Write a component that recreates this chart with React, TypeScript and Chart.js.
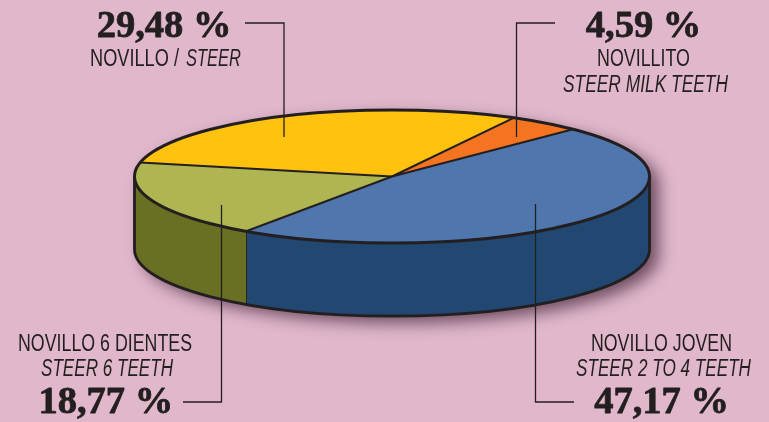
import React, { useEffect, useRef } from "react";
import { Chart, registerables } from "chart.js";

Chart.register(...registerables);

// Data, in drawing order (clockwise from the rotation start)
const categories = ["NOVILLITO", "NOVILLO JOVEN", "NOVILLO 6 DIENTES", "NOVILLO"];
const englishNames = ["STEER MILK TEETH", "STEER 2 TO 4 TEETH", "STEER 6 TEETH", "STEER"];
const shares = [4.59, 47.17, 18.77, 29.48];
const topColors = ["#F47421", "#4F77AE", "#AFB551", "#FFC20E"];
const wallColors = ["#B5500F", "#224872", "#697024", "#B88A00"];

const BG = "#E0B7CB";
const INK = "#231F20";
const FLATTEN = 66.5 / 257.5;
const DEPTH = 73;

type Seg = { text: string; italic?: boolean; x0: number; x1: number };
type Callout = {
  index: number;
  pct: { cx: number; y: number };
  lines: { y: number; segs: Seg[] }[];
  leader: number[][];
};

const callouts: Callout[] = [
  {
    index: 3,
    pct: { cx: 164, y: 37 },
    lines: [
      {
        y: 66,
        segs: [
          { text: categories[3] + " /", x0: 90, x1: 179 },
          { text: englishNames[3], italic: true, x0: 186, x1: 241 },
        ],
      },
    ],
    leader: [[245, 23], [284, 23], [284, 137]],
  },
  {
    index: 0,
    pct: { cx: 643.5, y: 37 },
    lines: [
      { y: 66, segs: [{ text: categories[0], x0: 597, x1: 690 }] },
      { y: 92, segs: [{ text: englishNames[0], italic: true, x0: 563, x1: 728 }] },
    ],
    leader: [[555, 23], [516.5, 23], [516.5, 137]],
  },
  {
    index: 2,
    pct: { cx: 105.8, y: 413 },
    lines: [
      { y: 351, segs: [{ text: categories[2], x0: 18, x1: 192 }] },
      { y: 376, segs: [{ text: englishNames[2], italic: true, x0: 41, x1: 173 }] },
    ],
    leader: [[183, 402], [221.5, 402], [221.5, 205]],
  },
  {
    index: 1,
    pct: { cx: 661.5, y: 413 },
    lines: [
      { y: 351, segs: [{ text: categories[1], x0: 591, x1: 732 }] },
      { y: 376, segs: [{ text: englishNames[1], italic: true, x0: 576, x1: 751 }] },
    ],
    leader: [[574, 402], [535.5, 402], [535.5, 204]],
  },
];

const formatShare = (v: number) => v.toFixed(2).replace(".", ",") + " %";

function fitted(ctx: CanvasRenderingContext2D, s: Seg, y: number) {
  ctx.save();
  ctx.font = `${s.italic ? "italic " : ""}23px "Liberation Sans Narrow", "Liberation Sans", sans-serif`;
  ctx.textAlign = "left";
  ctx.textBaseline = "alphabetic";
  const w = ctx.measureText(s.text).width;
  ctx.translate(s.x0, y);
  ctx.scale((s.x1 - s.x0) / w, 1);
  ctx.fillStyle = INK;
  ctx.fillText(s.text, 0, 0);
  ctx.restore();
}

const pie3d = {
  id: "pie3d",
  beforeDraw(chart: any) {
    const { ctx, width, height } = chart;
    ctx.save();
    ctx.fillStyle = BG;
    ctx.fillRect(0, 0, width, height);
    ctx.restore();
  },
  beforeDatasetsDraw(chart: any) {
    const { ctx } = chart;
    const arcs = chart.getDatasetMeta(0).data;
    const { x: cx, y: cy, outerRadius: rx } = arcs[0];
    const ry = rx * FLATTEN;

    // body with soft shadow
    ctx.save();
    ctx.shadowColor = "rgba(70,40,60,0.75)";
    ctx.shadowBlur = 16;
    ctx.shadowOffsetX = 9;
    ctx.shadowOffsetY = 7;
    ctx.fillStyle = wallColors[1];
    ctx.beginPath();
    ctx.ellipse(cx, cy + DEPTH, rx, ry, 0, 0, Math.PI);
    ctx.ellipse(cx, cy, rx, ry, 0, Math.PI, 0);
    ctx.closePath();
    ctx.fill();
    ctx.restore();

    // walls
    arcs.forEach((arc: any, i: number) => {
      const a0 = Math.max(arc.startAngle, 0);
      const a1 = Math.min(arc.endAngle, Math.PI);
      if (a1 <= a0) return;
      ctx.fillStyle = wallColors[i];
      ctx.beginPath();
      ctx.ellipse(cx, cy, rx, ry, 0, a0, a1);
      ctx.ellipse(cx, cy + DEPTH, rx, ry, 0, a1, a0, true);
      ctx.closePath();
      ctx.fill();
      if (arc.endAngle < Math.PI) {
        ctx.strokeStyle = INK;
        ctx.lineWidth = 1.8;
        const px = cx + rx * Math.cos(a1);
        const py = cy + ry * Math.sin(a1);
        ctx.beginPath();
        ctx.moveTo(px, py);
        ctx.lineTo(px, py + DEPTH);
        ctx.stroke();
      }
    });

    // wall outline
    ctx.strokeStyle = INK;
    ctx.lineWidth = 2.8;
    ctx.beginPath();
    ctx.moveTo(cx + rx, cy);
    ctx.ellipse(cx, cy + DEPTH, rx, ry, 0, 0, Math.PI);
    ctx.lineTo(cx - rx, cy);
    ctx.stroke();

    // flatten the top face drawn by the library
    ctx.save();
    ctx.translate(cx, cy);
    ctx.scale(1, FLATTEN);
    ctx.translate(-cx, -cy);
  },
  afterDatasetsDraw(chart: any) {
    const { ctx } = chart;
    ctx.restore();
    const arcs = chart.getDatasetMeta(0).data;
    const { x: cx, y: cy, outerRadius: rx } = arcs[0];
    const ry = rx * FLATTEN;

    ctx.save();
    ctx.strokeStyle = INK;
    ctx.lineJoin = "round";
    ctx.lineWidth = 2;
    arcs.forEach((arc: any) => {
      ctx.beginPath();
      ctx.moveTo(cx, cy);
      ctx.lineTo(cx + rx * Math.cos(arc.startAngle), cy + ry * Math.sin(arc.startAngle));
      ctx.stroke();
    });
    ctx.lineWidth = 3;
    ctx.beginPath();
    ctx.ellipse(cx, cy, rx, ry, 0, 0, Math.PI * 2);
    ctx.stroke();
    ctx.restore();
  },
  afterDraw(chart: any) {
    const { ctx } = chart;
    ctx.save();
    ctx.strokeStyle = INK;
    ctx.lineWidth = 1.3;
    ctx.fillStyle = INK;
    callouts.forEach((c) => {
      ctx.beginPath();
      c.leader.forEach(([x, y], i) => (i ? ctx.lineTo(x, y) : ctx.moveTo(x, y)));
      ctx.stroke();
      ctx.font = 'bold 38.5px "Liberation Serif", serif';
      ctx.textAlign = "center";
      ctx.textBaseline = "alphabetic";
      ctx.fillStyle = INK;
      ctx.fillText(formatShare(shares[c.index]), c.pct.cx, c.pct.y);
      ctx.save();
      ctx.lineWidth = 0.8;
      ctx.lineJoin = "round";
      ctx.strokeText(formatShare(shares[c.index]), c.pct.cx, c.pct.y);
      ctx.restore();
      c.lines.forEach((l) => l.segs.forEach((s) => fitted(ctx, s, l.y)));
    });
    ctx.restore();
  },
};

export default function App() {
  const ref = useRef<HTMLCanvasElement>(null);
  useEffect(() => {
    const chart = new Chart(ref.current!, {
      type: "pie",
      data: {
        labels: categories,
        datasets: [
          {
            data: shares,
            backgroundColor: topColors,
            borderWidth: 0,
            clip: false,
          } as any,
        ],
      },
      options: {
        responsive: false,
        animation: false,
        rotation: 28.2,
        radius: 257.5,
        layout: { padding: { left: 15, right: 0, top: 0, bottom: 69 } },
        plugins: { legend: { display: false }, tooltip: { enabled: false } },
      } as any,
      plugins: [pie3d],
    });
    return () => chart.destroy();
  }, []);
  return (
    <div style={{ position: "fixed", left: 0, top: 0, width: 769, height: 422, background: BG }}>
      <canvas ref={ref} width={769} height={422} style={{ display: "block" }} />
    </div>
  );
}
